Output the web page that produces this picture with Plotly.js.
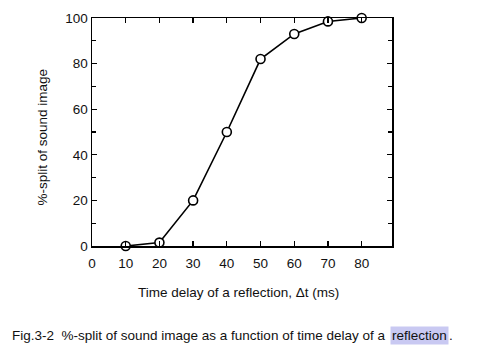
<!DOCTYPE html>
<html><head><meta charset="utf-8">
<script src="https://cdn.plot.ly/plotly-3.0.1.min.js"></script>
<style>html,body{margin:0;padding:0;background:#fff}</style>
</head><body>
<div id="chart" style="width:480px;height:351px"></div>
<script>
const delayMs = [10, 20, 30, 40, 50, 60, 70, 80];
const splitPct = [0, 1.5, 20, 50, 82, 93, 98.5, 100];
const xTicks = [0, 10, 20, 30, 40, 50, 60, 70, 80];
const yTicks = [0, 20, 40, 60, 80, 100];
const xTitle = 'Time delay of a reflection, Δt (ms)';
const yTitle = '%-split of sound image';
const captionMain = 'Fig.3-2  %-split of sound image as a function of time delay of a ';
const captionHi = 'reflection';

const font = 'Liberation Sans, Arial, Helvetica, sans-serif';
const L = 92, R = 392, T = 18, B = 246;
const px = v => (v - L) / (R - L);
const py = v => (B - v) / (B - T);
const trace = {
  x: delayMs, y: splitPct, type: 'scatter', mode: 'lines+markers',
  line: {color: '#000', width: 1.6},
  marker: {symbol: 'circle', size: 9, color: '#fff', line: {color: '#000', width: 1.6}},
  cliponaxis: false, hoverinfo: 'skip'
};
const tf = {size: 13.5, family: font, color: '#111'};
const layout = {
  width: 480, height: 351,
  margin: {l: L, r: 480 - R, t: T, b: 351 - B},
  paper_bgcolor: '#fff', plot_bgcolor: '#fff',
  showlegend: false,
  font: {family: font, color: '#111', size: 13},
  xaxis: {
    range: [0, 89], tickvals: xTicks, ticktext: xTicks.map(String),
    ticks: 'inside', ticklen: 5, tickwidth: 1.3, tickcolor: '#000',
    showline: true, linecolor: '#000', linewidth: 1.5, mirror: 'ticks',
    showgrid: false, zeroline: false, ticklabelstandoff: 4,
    tickfont: {size: 13.5, family: font, color: '#111'}
  },
  yaxis: {
    range: [0, 100], tickvals: yTicks, ticktext: yTicks.map(String),
    ticks: 'inside', ticklen: 5, tickwidth: 1.3, tickcolor: '#000',
    minor: {dtick: 10, ticks: 'inside', ticklen: 4, tickwidth: 1.3, tickcolor: '#000', showgrid: false},
    showline: true, linecolor: '#000', linewidth: 1.5, mirror: 'ticks',
    showgrid: false, zeroline: false,
    tickfont: {size: 13.5, family: font, color: '#111'}
  },
  annotations: [
    {xref: 'paper', yref: 'paper', x: px(238), y: py(292), xanchor: 'center', yanchor: 'middle',
     text: xTitle, showarrow: false, font: tf},
    {xref: 'paper', yref: 'paper', x: px(42), y: py(137.5), xanchor: 'center', yanchor: 'middle',
     text: yTitle, textangle: -90, showarrow: false, font: tf},
    {xref: 'paper', yref: 'paper', x: px(391), y: py(335), xanchor: 'right', yanchor: 'middle',
     text: captionMain, showarrow: false, font: tf},
    {xref: 'paper', yref: 'paper', x: px(390), y: py(335), xanchor: 'left', yanchor: 'middle',
     text: captionHi, showarrow: false, bgcolor: '#c9c9f2', borderpad: 1, font: tf},
    {xref: 'paper', yref: 'paper', x: px(447), y: py(335), xanchor: 'left', yanchor: 'middle',
     text: '.', showarrow: false, font: tf}
  ]
};
Plotly.newPlot('chart', [trace], layout, {displayModeBar: false, staticPlot: true});
</script>
</body></html>
